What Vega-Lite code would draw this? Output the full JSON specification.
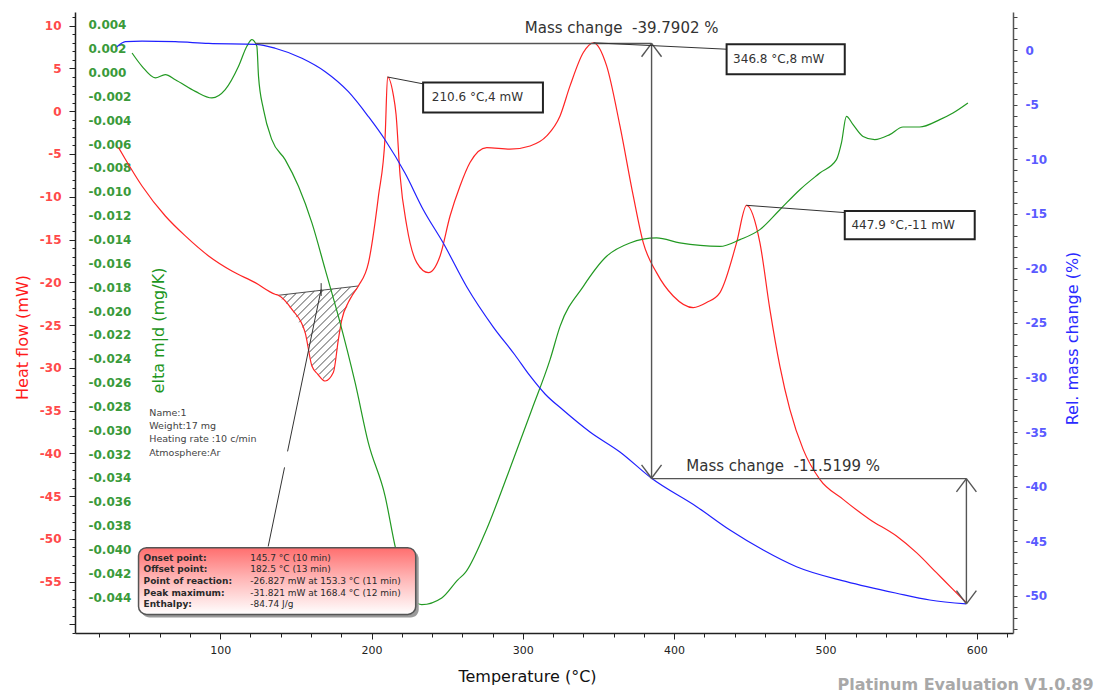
{
  "$schema": "https://vega.github.io/schema/vega-lite/v6.json",
  "width": 938,
  "height": 621,
  "autosize": {"type": "none"},
  "padding": {"left": 75, "top": 12, "right": 85, "bottom": 61},
  "background": "white",
  "config": {
    "view": {"stroke": null},
    "axis": {"grid": false, "labelFont": "DejaVu Sans", "titleFont": "DejaVu Sans", "labelOverlap": false, "labelFlush": false, "labelBound": false},
    "text": {"font": "DejaVu Sans"}
  },
  "datasets": {
    "red": [
      {"T":32.8,"HF":-4.25},{"T":37.3,"HF":-5.61},{"T":48.3,"HF":-8.74},{"T":63.7,"HF":-12.25},{"T":76.9,"HF":-14.58},{"T":92.3,"HF":-16.92},{"T":107.7,"HF":-18.68},{"T":123.1,"HF":-20.04},{"T":136.3,"HF":-21.4},{"T":138.3,"HF":-21.52},{"T":147.4,"HF":-23.16},{"T":156.1,"HF":-25.85},{"T":160.6,"HF":-29.79},{"T":164.5,"HF":-30.75},{"T":169.4,"HF":-31.54},{"T":174.8,"HF":-30.53},{"T":178.1,"HF":-26.67},{"T":180.4,"HF":-24.33},{"T":184.7,"HF":-22.34},{"T":187,"HF":-21.6},{"T":191.3,"HF":-20.43},{"T":198,"HF":-17.7},{"T":204.6,"HF":-9.9},{"T":209,"HF":-2.89},{"T":210.6,"HF":4.0},{"T":214.3,"HF":2.0},{"T":216.2,"HF":-0.35},{"T":218.9,"HF":-7.57},{"T":223.3,"HF":-13.42},{"T":229.9,"HF":-17.7},{"T":237.6,"HF":-18.87},{"T":245.3,"HF":-16.92},{"T":251.9,"HF":-12.25},{"T":258.5,"HF":-8.74},{"T":265.1,"HF":-6.0},{"T":276.2,"HF":-4.25},{"T":291.5,"HF":-4.44},{"T":304.8,"HF":-4.06},{"T":315.8,"HF":-2.89},{"T":324.6,"HF":-0.55},{"T":331.2,"HF":2.96},{"T":340,"HF":6.87},{"T":346.8,"HF":8.0},{"T":355.4,"HF":5.3},{"T":364.2,"HF":-1.72},{"T":373,"HF":-9.9},{"T":379.6,"HF":-15.36},{"T":388.4,"HF":-18.87},{"T":399.4,"HF":-21.6},{"T":412.6,"HF":-22.96},{"T":421.5,"HF":-22.37},{"T":430.3,"HF":-21.2},{"T":432.4,"HF":-20.43},{"T":441.3,"HF":-15.36},{"T":447.9,"HF":-11.0},{"T":456.7,"HF":-15.36},{"T":463.3,"HF":-23.16},{"T":469.9,"HF":-29.79},{"T":476.5,"HF":-34.85},{"T":485.3,"HF":-39.53},{"T":496.3,"HF":-43.04},{"T":511.7,"HF":-45.38},{"T":529.3,"HF":-47.72},{"T":547,"HF":-49.67},{"T":560.2,"HF":-51.61},{"T":573.4,"HF":-53.95},{"T":584.3,"HF":-55.9},{"T":593.2,"HF":-57.46}
    ],
    "green": [
      {"T":41.7,"G":0.00165},{"T":48.3,"G":0.00053},{"T":57.1,"G":-0.00044},{"T":63.7,"G":-0.00017},{"T":70.3,"G":-0.00059},{"T":83.5,"G":-0.00157},{"T":94.5,"G":-0.00212},{"T":103.3,"G":-0.00143},{"T":112.1,"G":0.00053},{"T":117.6,"G":0.00221},{"T":120.9,"G":0.00277},{"T":124.2,"G":0.00221},{"T":125.3,"G":-0.00031},{"T":128.6,"G":-0.0031},{"T":134.1,"G":-0.00562},{"T":142.9,"G":-0.0073},{"T":151.7,"G":-0.00954},{"T":160.6,"G":-0.01261},{"T":169.4,"G":-0.01653},{"T":178.1,"G":-0.02045},{"T":189.2,"G":-0.02604},{"T":197.9,"G":-0.03107},{"T":209,"G":-0.03555},{"T":215.6,"G":-0.03975},{"T":222.2,"G":-0.04296},{"T":233.2,"G":-0.04464},{"T":246.4,"G":-0.04408},{"T":257.2,"G":-0.04254},{"T":261.8,"G":-0.04198},{"T":275,"G":-0.03863},{"T":290.4,"G":-0.03359},{"T":305.9,"G":-0.02828},{"T":318,"G":-0.02408},{"T":324.6,"G":-0.02129},{"T":340,"G":-0.01793},{"T":355.4,"G":-0.01541},{"T":370.8,"G":-0.01429},{"T":388.4,"G":-0.01387},{"T":403.8,"G":-0.01429},{"T":430.3,"G":-0.01458},{"T":443.5,"G":-0.01401},{"T":456.7,"G":-0.01317},{"T":469.9,"G":-0.0115},{"T":483.1,"G":-0.00982},{"T":496.3,"G":-0.00842},{"T":507.3,"G":-0.0073},{"T":510.6,"G":-0.0059},{"T":513.9,"G":-0.00367},{"T":518.3,"G":-0.00436},{"T":524.9,"G":-0.00535},{"T":532.6,"G":-0.00562},{"T":542.5,"G":-0.0052},{"T":551.3,"G":-0.00456},{"T":562.3,"G":-0.00456},{"T":575.6,"G":-0.00394},{"T":584.3,"G":-0.00338},{"T":594.2,"G":-0.00254}
    ],
    "blue": [
      {"T":31.8,"B":0.3},{"T":37.3,"B":0.76},{"T":48.3,"B":0.82},{"T":70.3,"B":0.76},{"T":92.3,"B":0.61},{"T":123.1,"B":0.52},{"T":136.3,"B":0.16},{"T":154,"B":-0.76},{"T":169.4,"B":-1.99},{"T":184.7,"B":-3.82},{"T":198,"B":-6.11},{"T":209,"B":-8.24},{"T":222.2,"B":-11.29},{"T":234.3,"B":-14.65},{"T":247.5,"B":-17.7},{"T":262.9,"B":-21.68},{"T":280.5,"B":-25.37},{"T":294.8,"B":-27.93},{"T":304.8,"B":-29.85},{"T":314.7,"B":-31.5},{"T":326.6,"B":-32.97},{"T":344.4,"B":-34.98},{"T":364.2,"B":-36.81},{"T":385.1,"B":-39.22},{"T":414.9,"B":-41.82},{"T":436.9,"B":-43.96},{"T":458.9,"B":-45.79},{"T":480.9,"B":-47.32},{"T":513.9,"B":-48.69},{"T":547,"B":-49.75},{"T":569,"B":-50.37},{"T":593.2,"B":-50.73}
    ],
    "hatch": [
      {"T":138.3,"HF":-21.52,"T2":191.3,"HF2":-20.43},
      {"T":141.0,"HF":-21.99,"T2":144.3,"HF2":-21.4},
      {"T":143.5,"HF":-22.47,"T2":150.2,"HF2":-21.29},
      {"T":146.2,"HF":-22.94,"T2":156.1,"HF2":-21.17},
      {"T":148.4,"HF":-23.47,"T2":162.2,"HF2":-21.04},
      {"T":150.3,"HF":-24.07,"T2":168.1,"HF2":-20.92},
      {"T":152.2,"HF":-24.67,"T2":174.0,"HF2":-20.81},
      {"T":154.2,"HF":-25.25,"T2":180.0,"HF2":-20.69},
      {"T":156.1,"HF":-25.85,"T2":185.9,"HF2":-20.57},
      {"T":157.0,"HF":-26.63,"T2":190.4,"HF2":-20.73},
      {"T":157.9,"HF":-27.4,"T2":183.6,"HF2":-22.85},
      {"T":158.8,"HF":-28.19,"T2":180.3,"HF2":-24.37},
      {"T":159.6,"HF":-28.97,"T2":179.3,"HF2":-25.5},
      {"T":160.5,"HF":-29.75,"T2":178.2,"HF2":-26.62},
      {"T":162.9,"HF":-30.26,"T2":177.2,"HF2":-27.73},
      {"T":165.4,"HF":-30.76,"T2":176.3,"HF2":-28.83},
      {"T":167.9,"HF":-31.25,"T2":175.4,"HF2":-29.93}
    ],
    "leaders": [
      {"T":210.6,"HF":4.0,"T2":234.1,"HF2":3.2},
      {"T":346.8,"HF":8.0,"T2":434.7,"HF2":7.25},
      {"T":447.9,"HF":-11.0,"T2":512.8,"HF2":-11.85},
      {"T":166.7,"HF":-20.82,"T2":144.5,"HF2":-39.77},
      {"T":142.5,"HF":-41.64,"T2":131.7,"HF2":-50.88},
      {"T":166.7,"HF":-20.1,"T2":166.7,"HF2":-21.6}
    ],
    "brackets": [
      {"T":123.1,"B":0.6,"T2":385.1,"B2":0.6},
      {"T":385.1,"B":0.6,"T2":385.1,"B2":-39.22},
      {"T":385.1,"B":0.6,"T2":378.5,"B2":-0.62},
      {"T":385.1,"B":0.6,"T2":391.7,"B2":-0.62},
      {"T":385.1,"B":-39.22,"T2":378.5,"B2":-38.0},
      {"T":385.1,"B":-39.22,"T2":391.7,"B2":-38.0},
      {"T":385.1,"B":-39.25,"T2":593.2,"B2":-39.25},
      {"T":593.2,"B":-39.25,"T2":593.2,"B2":-50.73},
      {"T":593.2,"B":-39.25,"T2":586.6,"B2":-40.47},
      {"T":593.2,"B":-39.25,"T2":599.8,"B2":-40.47},
      {"T":593.2,"B":-50.73,"T2":586.6,"B2":-49.51},
      {"T":593.2,"B":-50.73,"T2":599.8,"B2":-49.51}
    ],
    "masstext": [
      {"T":365.3,"B":2.01,"label":"Mass change\u00a0 -39.7902 %"},
      {"T":472.1,"B":-38.07,"label":"Mass change\u00a0 -11.5199 %"}
    ],
    "peakboxes": [
      {"T":234.1,"T2":313.3,"HF":3.36,"HF2":-0.15,"tx":239.8,"ty":1.61,"label":"210.6 °C,4 mW"},
      {"T":434.7,"T2":512.8,"HF":7.84,"HF2":4.33,"tx":439.0,"ty":6.08,"label":"346.8 °C,8 mW"},
      {"T":512.8,"T2":598.7,"HF":-11.66,"HF2":-14.97,"tx":517.2,"ty":-13.33,"label":"447.9 °C,-11 mW"}
    ],
    "infobox": [
      {"T":46.0,"T2":229.2,"HF":-51.03,"HF2":-58.83}
    ],
    "infolabels": [
      {"T":49.3,"HF":-52.2,"label":"Onset point:"},
      {"T":49.3,"HF":-53.57,"label":"Offset point:"},
      {"T":49.3,"HF":-54.94,"label":"Point of reaction:"},
      {"T":49.3,"HF":-56.29,"label":"Peak maximum:"},
      {"T":49.3,"HF":-57.66,"label":"Enthalpy:"}
    ],
    "infovalues": [
      {"T":119.8,"HF":-52.2,"label":"145.7 °C (10 min)"},
      {"T":119.8,"HF":-53.57,"label":"182.5 °C (13 min)"},
      {"T":119.8,"HF":-54.94,"label":"-26.827 mW at 153.3 °C (11 min)"},
      {"T":119.8,"HF":-56.29,"label":"-31.821 mW at 168.4 °C (12 min)"},
      {"T":119.8,"HF":-57.66,"label":"-84.74 J/g"}
    ],
    "nameblock": [
      {"T":53.1,"HF":-35.24,"label":"Name:1"},
      {"T":53.1,"HF":-36.81,"label":"Weight:17 mg"},
      {"T":53.1,"HF":-38.36,"label":"Heating rate :10 c/min"},
      {"T":53.1,"HF":-40.0,"label":"Atmosphere:Ar"}
    ],
    "watermark": [
      {"T":677.3,"HF":-67.13,"label":"Platinum Evaluation V1.0.89"}
    ]
  },
  "encoding": {
    "x": {
      "field": "T", "type": "quantitative",
      "scale": {"domain": [4, 624], "nice": false, "zero": false},
      "axis": {
        "values": [20,40,60,80,100,120,140,160,180,200,220,240,260,280,300,320,340,360,380,400,420,440,460,480,500,520,540,560,580,600,620],
        "labelExpr": "datum.value % 100 === 0 ? datum.label : ''",
        "labelFontSize": 11, "labelColor": "#222", "labelPadding": 5,
        "tickColor": "#222",
        "tickSize": {"condition": {"test": "datum.value % 100 === 0", "value": 6}, "value": 4},
        "domainColor": "#222", "domainWidth": 1.5,
        "title": "Temperature (°C)", "titleFontSize": 16, "titleFontWeight": "normal", "titleColor": "#111",
        "titleX": 452, "titleY": 43, "titleBaseline": "middle"
      }
    }
  },
  "resolve": {"scale": {"y": "independent"}, "axis": {"y": "independent"}},
  "layer": [
    {
      "data": {"name": "hatch"},
      "mark": {"type": "rule", "color": "#222", "strokeWidth": 0.8},
      "encoding": {
        "y": {"field": "HF", "type": "quantitative", "scale": {"domain": [-61, 11.6], "nice": false, "zero": false}, "axis": null},
        "x2": {"field": "T2"},
        "y2": {"field": "HF2"}
      }
    },
    {
      "data": {"name": "red"},
      "mark": {"type": "line", "color": "#ff2424", "strokeWidth": 1.2, "interpolate": "monotone"},
      "encoding": {
        "y": {
          "field": "HF", "type": "quantitative",
          "scale": {"domain": [-61, 11.6], "nice": false, "zero": false},
          "axis": {
            "orient": "left",
            "values": [-61,-60,-59,-58,-57,-56,-55,-54,-53,-52,-51,-50,-49,-48,-47,-46,-45,-44,-43,-42,-41,-40,-39,-38,-37,-36,-35,-34,-33,-32,-31,-30,-29,-28,-27,-26,-25,-24,-23,-22,-21,-20,-19,-18,-17,-16,-15,-14,-13,-12,-11,-10,-9,-8,-7,-6,-5,-4,-3,-2,-1,0,1,2,3,4,5,6,7,8,9,10,11],
            "labelExpr": "(datum.value % 5 === 0 && datum.value >= -55) ? replace(datum.label, '\u2212', '-') : ''",
            "labelColor": "#ff4a4a", "labelFontSize": 12, "labelFontWeight": "bold", "labelPadding": 8,
            "tickColor": "#222",
            "tickSize": {"condition": {"test": "datum.value % 5 === 0", "value": 6}, "value": 3},
            "domainColor": "#222", "domainWidth": 1.5,
            "title": "Heat flow (mW)", "titleColor": "#ff1a1a", "titleFontSize": 16, "titleFontWeight": "normal",
            "titleAngle": 270, "titleX": -53, "titleY": 325, "titleBaseline": "middle", "titleAlign": "center"
          }
        }
      }
    },
    {
      "data": {"name": "green"},
      "mark": {"type": "line", "color": "#229922", "strokeWidth": 1.2, "interpolate": "monotone"},
      "encoding": {
        "y": {
          "field": "G", "type": "quantitative",
          "scale": {"domain": [-0.04702, 0.00509], "nice": false, "zero": false},
          "axis": {
            "orient": "left",
            "values": [0.004,0.002,0,-0.002,-0.004,-0.006,-0.008,-0.01,-0.012,-0.014,-0.016,-0.018,-0.02,-0.022,-0.024,-0.026,-0.028,-0.03,-0.032,-0.034,-0.036,-0.038,-0.04,-0.042,-0.044],
            "labelExpr": "replace(format(datum.value, '.3f'), '\u2212', '-')",
            "labelColor": "#3a9a3a", "labelFontSize": 12, "labelFontWeight": "bold",
            "labelAlign": "left", "labelPadding": -13,
            "ticks": true, "tickSize": 0, "domain": false,
            "title": "elta m|d (mg/K)", "titleColor": "#1e961e", "titleFontSize": 16, "titleFontWeight": "normal",
            "titleAngle": 270, "titleX": 83, "titleY": 318, "titleBaseline": "middle", "titleAlign": "center"
          }
        }
      }
    },
    {
      "data": {"name": "blue"},
      "mark": {"type": "line", "color": "#2020ff", "strokeWidth": 1.2, "interpolate": "monotone"},
      "encoding": {
        "y": {
          "field": "B", "type": "quantitative",
          "scale": {"domain": [-53.39, 3.48], "nice": false, "zero": false},
          "axis": {
            "orient": "right",
            "values": [-53,-52,-51,-50,-49,-48,-47,-46,-45,-44,-43,-42,-41,-40,-39,-38,-37,-36,-35,-34,-33,-32,-31,-30,-29,-28,-27,-26,-25,-24,-23,-22,-21,-20,-19,-18,-17,-16,-15,-14,-13,-12,-11,-10,-9,-8,-7,-6,-5,-4,-3,-2,-1,0,1,2,3],
            "labelExpr": "datum.value % 5 === 0 ? replace(datum.label, '\u2212', '-') : ''",
            "labelColor": "#5a5aff", "labelFontSize": 12, "labelFontWeight": "bold", "labelPadding": 8,
            "tickColor": "#444", "tickSize": 4,
            "domainColor": "#555", "domainWidth": 1.5,
            "title": "Rel. mass change (%)", "titleColor": "#2a2aff", "titleFontSize": 16, "titleFontWeight": "normal",
            "titleAngle": 270, "titleX": 59, "titleY": 326, "titleBaseline": "middle", "titleAlign": "center"
          }
        }
      }
    },
    {
      "data": {"name": "brackets"},
      "mark": {"type": "rule", "color": "#555", "strokeWidth": 1.4},
      "encoding": {
        "y": {"field": "B", "type": "quantitative", "scale": {"domain": [-53.39, 3.48], "nice": false, "zero": false}, "axis": null},
        "x2": {"field": "T2"},
        "y2": {"field": "B2"}
      }
    },
    {
      "data": {"name": "masstext"},
      "mark": {"type": "text", "fontSize": 15, "color": "#333", "align": "center", "baseline": "middle"},
      "encoding": {
        "y": {"field": "B", "type": "quantitative", "scale": {"domain": [-53.39, 3.48], "nice": false, "zero": false}, "axis": null},
        "text": {"field": "label"}
      }
    },
    {
      "data": {"name": "leaders"},
      "mark": {"type": "rule", "color": "#333", "strokeWidth": 1},
      "encoding": {
        "y": {"field": "HF", "type": "quantitative", "scale": {"domain": [-61, 11.6], "nice": false, "zero": false}, "axis": null},
        "x2": {"field": "T2"},
        "y2": {"field": "HF2"}
      }
    },
    {
      "data": {"name": "peakboxes"},
      "mark": {"type": "rect", "fill": "white", "stroke": "#222", "strokeWidth": 2},
      "encoding": {
        "y": {"field": "HF", "type": "quantitative", "scale": {"domain": [-61, 11.6], "nice": false, "zero": false}, "axis": null},
        "x2": {"field": "T2"},
        "y2": {"field": "HF2"}
      }
    },
    {
      "data": {"name": "peakboxes"},
      "mark": {"type": "text", "fontSize": 12, "color": "#333", "align": "left", "baseline": "middle"},
      "encoding": {
        "x": {"field": "tx", "type": "quantitative"},
        "y": {"field": "ty", "type": "quantitative", "scale": {"domain": [-61, 11.6], "nice": false, "zero": false}, "axis": null},
        "text": {"field": "label"}
      }
    },
    {
      "data": {"name": "infobox"},
      "mark": {"type": "rect", "fill": "#9a9a9a", "cornerRadius": 8, "xOffset": 3, "x2Offset": 3, "yOffset": 3, "y2Offset": 3},
      "encoding": {
        "y": {"field": "HF", "type": "quantitative", "scale": {"domain": [-61, 11.6], "nice": false, "zero": false}, "axis": null},
        "x2": {"field": "T2"},
        "y2": {"field": "HF2"}
      }
    },
    {
      "data": {"name": "infobox"},
      "mark": {
        "type": "rect", "cornerRadius": 8, "stroke": "#555", "strokeWidth": 1.5,
        "fill": {"gradient": "linear", "x1": 0, "y1": 0, "x2": 0, "y2": 1,
          "stops": [{"offset": 0, "color": "#ff6e6e"}, {"offset": 0.45, "color": "#ffb4b4"}, {"offset": 1, "color": "#ffffff"}]}
      },
      "encoding": {
        "y": {"field": "HF", "type": "quantitative", "scale": {"domain": [-61, 11.6], "nice": false, "zero": false}, "axis": null},
        "x2": {"field": "T2"},
        "y2": {"field": "HF2"}
      }
    },
    {
      "data": {"name": "infolabels"},
      "mark": {"type": "text", "fontSize": 9, "fontWeight": "bold", "color": "#2a2a2a", "align": "left", "baseline": "middle"},
      "encoding": {
        "y": {"field": "HF", "type": "quantitative", "scale": {"domain": [-61, 11.6], "nice": false, "zero": false}, "axis": null},
        "text": {"field": "label"}
      }
    },
    {
      "data": {"name": "infovalues"},
      "mark": {"type": "text", "fontSize": 9, "color": "#2a2a2a", "align": "left", "baseline": "middle"},
      "encoding": {
        "y": {"field": "HF", "type": "quantitative", "scale": {"domain": [-61, 11.6], "nice": false, "zero": false}, "axis": null},
        "text": {"field": "label"}
      }
    },
    {
      "data": {"name": "nameblock"},
      "mark": {"type": "text", "fontSize": 9.5, "color": "#444", "align": "left", "baseline": "middle"},
      "encoding": {
        "y": {"field": "HF", "type": "quantitative", "scale": {"domain": [-61, 11.6], "nice": false, "zero": false}, "axis": null},
        "text": {"field": "label"}
      }
    },
    {
      "data": {"name": "watermark"},
      "mark": {"type": "text", "fontSize": 16, "fontWeight": "bold", "color": "#a8a8a8", "align": "right", "baseline": "middle"},
      "encoding": {
        "y": {"field": "HF", "type": "quantitative", "scale": {"domain": [-61, 11.6], "nice": false, "zero": false}, "axis": null},
        "text": {"field": "label"}
      }
    }
  ]
}
